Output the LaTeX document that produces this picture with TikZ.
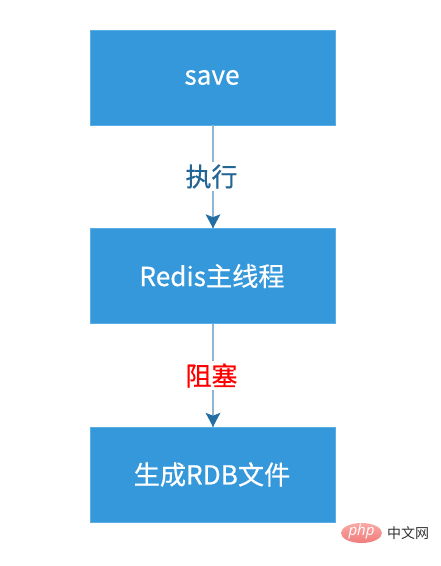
\documentclass[tikz,border=0pt]{standalone}
\usepackage{fontspec}
\setmainfont{Open Sans}
\newfontfamily\cjk[FakeBold=0.5]{Noto Sans CJK SC}
\newfontfamily\cjkplain{Noto Sans CJK SC}
\usetikzlibrary{shadings}
\definecolor{boxblue}{HTML}{3498DB}
\definecolor{boxedge}{HTML}{5AAEE3}
\definecolor{linkblue}{HTML}{8FB6D2}
\definecolor{headblue}{HTML}{236EA3}
\definecolor{lblblue}{HTML}{236695}
\definecolor{logotop}{HTML}{F8A9A5}
\definecolor{logobot}{HTML}{F27C7C}
\tikzset{
  x=1pt,y=-1pt,
  flowbox/.style={draw=boxedge,line width=0.6pt,fill=boxblue,minimum width=245pt,minimum height=95pt,inner sep=0pt,text=white,font=\cjk\fontsize{26.2}{30}\selectfont},
  link/.style={draw=linkblue,line width=1.2pt},
  head/.style={fill=headblue,draw=none},
  linklabel/.style={fill=white,inner sep=2pt,font=\cjk\fontsize{26}{30}\selectfont}
}
\begin{document}
\begin{tikzpicture}
\useasboundingbox (0,0) rectangle (440,566);
\fill[white] (0,0) rectangle (440,566);
\coordinate (c1) at (213,77.5);
\coordinate (c2) at (213,276);
\coordinate (c3) at (213,474.5);
\node[flowbox] (a) at (c1) {save\kern2pt};
\node[flowbox] (b) at (c2) {Redis主线程\kern2pt};
\node[flowbox] (c) at (c3) {生成RDB文件\kern2pt};
\draw[link] (a.south) -- (b.north);
\draw[link] (b.south) -- (c.north);
\fill[head] (b.north) -- ++(-7.5,-14) -- ++(7.5,3) -- ++(7.5,-3) -- cycle;
\fill[head] (c.north) -- ++(-7.5,-14) -- ++(7.5,3) -- ++(7.5,-3) -- cycle;
\node[linklabel,text=lblblue] (l1) at (211.5,176.5) {执行};
\node[linklabel,text=red] (l2) at (211.5,375.5) {阻塞};
% watermark
\shade[top color=logotop,bottom color=logobot,draw=none] (361.5,533) ellipse [x radius=20.5,y radius=10];
\node[text=white,inner sep=0pt,font=\fontsize{15}{15}\selectfont\itshape] (p) at (361.5,532) {php};
\node[text=black!80,inner sep=0pt,font=\cjkplain\fontsize{14}{16}\selectfont] (z) at (408,533) {中文网};
\end{tikzpicture}
\end{document}
